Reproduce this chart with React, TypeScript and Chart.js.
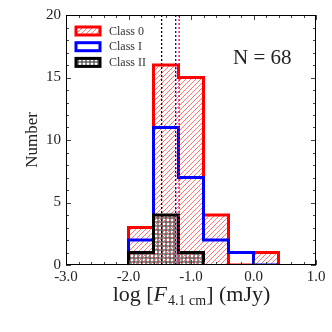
import React, { useEffect, useRef } from 'react';
import { Chart, registerables } from 'chart.js';

Chart.register(...registerables);

// ---- data ----
const binEdges = [-2.0, -1.6, -1.2, -0.8, -0.4, 0.0, 0.4];
const class0Counts = [3, 16, 15, 4, 0, 1];
const classICounts = [2, 11, 7, 2, 1, 0];
const classIICounts = [1, 4, 1];
const medianClass0 = -1.19;
const medianClassI = -1.245;
const medianClassII = -1.47;
const xTickValues = [-3, -2, -1, 0, 1];
const yTickValues = [0, 5, 10, 15, 20];
const seriesNames = ['Class 0', 'Class I', 'Class II'];
const totalLabel = 'N = 68';
const xMinorStep = 0.2;
const yMinorStep = 1;

const FONT = '"Liberation Serif", "DejaVu Serif", serif';

function stepPoints(edges: number[], counts: number[]) {
  const pts: { x: number; y: number }[] = [{ x: edges[0], y: 0 }];
  counts.forEach((c, i) => {
    pts.push({ x: edges[i], y: c });
    pts.push({ x: edges[i + 1], y: c });
  });
  pts.push({ x: edges[counts.length], y: 0 });
  return pts;
}

function makeHatch(): CanvasPattern | string {
  const c = document.createElement('canvas');
  const s = 5;
  c.width = s;
  c.height = s;
  const g = c.getContext('2d')!;
  g.clearRect(0, 0, s, s);
  g.strokeStyle = 'rgb(255,60,60)';
  g.lineWidth = 0.7;
  g.beginPath();
  g.moveTo(-1, s + 1);
  g.lineTo(s + 1, -1);
  g.moveTo(-1, 1);
  g.lineTo(1, -1);
  g.moveTo(s - 1, s + 1);
  g.lineTo(s + 1, s - 1);
  g.stroke();
  return g.createPattern(c, 'repeat') || 'rgba(255,0,0,0.2)';
}

function makeDots(): CanvasPattern | string {
  const c = document.createElement('canvas');
  const s = 4;
  c.width = s;
  c.height = s;
  const g = c.getContext('2d')!;
  g.clearRect(0, 0, s, s);
  g.strokeStyle = 'rgb(0,0,0)';
  g.lineWidth = 0.9;
  g.beginPath();
  g.arc(2, 2, 1.2, 0, Math.PI * 2);
  g.stroke();
  return g.createPattern(c, 'repeat') || 'rgba(0,0,0,0.3)';
}

function vline(x: number) {
  return [
    { x, y: 0 },
    { x, y: 20 },
  ];
}

export default function App() {
  const ref = useRef<HTMLCanvasElement | null>(null);

  useEffect(() => {
    document.body.style.margin = '0';
    const canvas = ref.current;
    if (!canvas) return;
    const hatch = makeHatch();
    const dots = makeDots();

    const fills = {
      id: 'customFills',
      beforeDatasetsDraw(chart: any) {
        const { ctx, chartArea: a, scales } = chart;
        const xs = scales.x;
        const ys = scales.y;
        ctx.save();
        ctx.beginPath();
        ctx.rect(a.left, a.top, a.right - a.left, a.bottom - a.top);
        ctx.clip();
        chart.data.datasets.forEach((ds: any) => {
          if (!ds.patternFill) return;
          const pts = ds.data as { x: number; y: number }[];
          ctx.beginPath();
          pts.forEach((p, i) => {
            const px = xs.getPixelForValue(p.x);
            const py = ys.getPixelForValue(p.y);
            if (i === 0) ctx.moveTo(px, py);
            else ctx.lineTo(px, py);
          });
          ctx.closePath();
          ctx.fillStyle = ds.patternFill;
          ctx.fill();
        });
        ctx.restore();
      },
    };

    const decor = {
      id: 'decor',
      afterDraw(chart: any) {
        const { ctx, chartArea: a, scales } = chart;
        const xs = scales.x;
        const ys = scales.y;
        ctx.save();
        // ticks
        ctx.strokeStyle = '#444';
        ctx.lineWidth = 1;
        ctx.beginPath();
        const xmin = xs.min, xmax = xs.max;
        const nx = Math.round((xmax - xmin) / xMinorStep);
        for (let i = 0; i <= nx; i++) {
          const v = xmin + i * xMinorStep;
          const px = Math.round(xs.getPixelForValue(v)) + 0.5;
          const major = Math.abs(v - Math.round(v)) < 1e-6;
          const len = major ? 5 : 3;
          ctx.moveTo(px, a.bottom);
          ctx.lineTo(px, a.bottom - len);
          ctx.moveTo(px, a.top);
          ctx.lineTo(px, a.top + len);
        }
        const ny = Math.round((ys.max - ys.min) / yMinorStep);
        for (let i = 0; i <= ny; i++) {
          const v = ys.min + i * yMinorStep;
          const py = Math.round(ys.getPixelForValue(v)) + 0.5;
          const major = v % 5 === 0;
          const len = major ? 5 : 3;
          ctx.moveTo(a.left, py);
          ctx.lineTo(a.left + len, py);
          ctx.moveTo(a.right, py);
          ctx.lineTo(a.right - len, py);
        }
        ctx.stroke();
        // frame
        ctx.strokeStyle = '#000';
        ctx.lineWidth = 1;
        ctx.strokeRect(a.left + 0.5, a.top + 0.5, a.right - a.left - 1, a.bottom - a.top - 1);

        // legend
        const colors = ['#ff0000', '#0000ff', '#000000'];
        const legendFills: any[] = [hatch, '#ffffff', dots];
        const bx = a.left + 10;
        const bw = 24;
        const bh = 8;
        ctx.font = '12px ' + FONT;
        ctx.textBaseline = 'middle';
        ctx.textAlign = 'left';
        seriesNames.forEach((name, i) => {
          const cy = a.top + 16 + i * 15.7;
          ctx.fillStyle = '#fff';
          ctx.fillRect(bx, cy - bh / 2, bw, bh);
          ctx.fillStyle = legendFills[i];
          ctx.fillRect(bx, cy - bh / 2, bw, bh);
          ctx.strokeStyle = colors[i];
          ctx.lineWidth = 3;
          ctx.strokeRect(bx, cy - bh / 2, bw, bh);
          ctx.fillStyle = '#333';
          ctx.fillText(name, bx + bw + 9, cy + 0.5);
        });

        // N label
        ctx.font = '21px ' + FONT;
        ctx.fillStyle = '#222';
        ctx.textBaseline = 'alphabetic';
        ctx.textAlign = 'left';
        ctx.fillText(totalLabel, a.right - 83, a.top + 49);

        // x title
        const cx = (a.left + a.right) / 2;
        const base = 301;
        const parts = [
          { t: 'log [', f: '22px ' + FONT, dy: 0 },
          { t: 'F', f: 'italic 22px ' + FONT, dy: 0 },
          { t: '4.1 cm', f: '14px ' + FONT, dy: 4 },
          { t: '] (mJy)', f: '22px ' + FONT, dy: 0 },
        ];
        let total = 0;
        parts.forEach((p) => {
          ctx.font = p.f;
          total += ctx.measureText(p.t).width;
        });
        let px = cx - total / 2;
        ctx.fillStyle = '#222';
        parts.forEach((p) => {
          ctx.font = p.f;
          ctx.fillText(p.t, px, base + p.dy);
          px += ctx.measureText(p.t).width + (p.t === 'F' ? 1 : 0);
        });

        // y title
        ctx.save();
        ctx.translate(33, (a.top + a.bottom) / 2);
        ctx.rotate(-Math.PI / 2);
        ctx.font = '17px ' + FONT;
        ctx.textAlign = 'center';
        ctx.textBaseline = 'middle';
        ctx.fillText('Number', 0, 0);
        ctx.restore();

        ctx.restore();
      },
    };

    const chart = new Chart(canvas, {
      type: 'line',
      data: {
        datasets: [
          {
            label: 'med II',
            data: vline(medianClassII),
            borderColor: '#000',
            borderWidth: 1.3,
            borderDash: [2, 2],
            pointRadius: 0,
            fill: false,
            order: 0,
          },
          {
            label: 'med I',
            data: vline(medianClassI),
            borderColor: '#0000ff',
            borderWidth: 1.3,
            borderDash: [2, 2],
            pointRadius: 0,
            fill: false,
            order: 0,
          },
          {
            label: 'med 0',
            data: vline(medianClass0),
            borderColor: '#ff0000',
            borderWidth: 1.3,
            borderDash: [2, 2],
            pointRadius: 0,
            fill: false,
            order: 0,
          },
          {
            label: seriesNames[2],
            data: stepPoints(binEdges, classIICounts),
            borderColor: '#000',
            borderWidth: 3,
            backgroundColor: 'rgba(0,0,0,0)',
            patternFill: dots,
            fill: false,
            pointRadius: 0,
            tension: 0,
            order: 1,
          },
          {
            label: seriesNames[1],
            data: stepPoints(binEdges, classICounts),
            borderColor: '#0000ff',
            borderWidth: 3,
            backgroundColor: 'rgba(0,0,0,0)',
            fill: false,
            pointRadius: 0,
            tension: 0,
            order: 2,
          },
          {
            label: seriesNames[0],
            data: stepPoints(binEdges, class0Counts),
            borderColor: '#ff0000',
            borderWidth: 3,
            backgroundColor: 'rgba(0,0,0,0)',
            patternFill: hatch,
            fill: false,
            pointRadius: 0,
            tension: 0,
            order: 3,
          },
        ],
      },
      options: {
        animation: false,
        responsive: false,
        maintainAspectRatio: false,
        layout: { padding: { left: 0, top: 15, right: 16, bottom: 0 } },
        plugins: {
          legend: { display: false },
          tooltip: { enabled: false },
        },
        elements: { line: { borderJoinStyle: 'miter', borderCapStyle: 'butt' } },
        scales: {
          x: {
            type: 'linear',
            min: -3,
            max: 1,
            grid: { display: false, drawTicks: false },
            border: { display: false },
            afterBuildTicks: (s: any) => {
              s.ticks = xTickValues.map((v) => ({ value: v }));
            },
            afterFit: (s: any) => {
              s.height = 67;
            },
            ticks: {
              padding: 3,
              color: '#222',
              font: { family: FONT, size: 15 },
              maxRotation: 0,
              callback: (v: any) => Number(v).toFixed(1),
            },
          },
          y: {
            type: 'linear',
            min: 0,
            max: 20,
            grid: { display: false, drawTicks: false },
            border: { display: false },
            afterBuildTicks: (s: any) => {
              s.ticks = yTickValues.map((v) => ({ value: v }));
            },
            afterFit: (s: any) => {
              s.width = 66;
            },
            ticks: {
              padding: 5,
              color: '#222',
              font: { family: FONT, size: 15 },
            },
          },
        },
      },
      plugins: [fills, decor],
    } as any);

    return () => chart.destroy();
  }, []);

  return (
    <div style={{ position: 'absolute', left: 0, top: 0, width: 332, height: 332, background: '#fff' }}>
      <canvas ref={ref} width={332} height={332} />
    </div>
  );
}
